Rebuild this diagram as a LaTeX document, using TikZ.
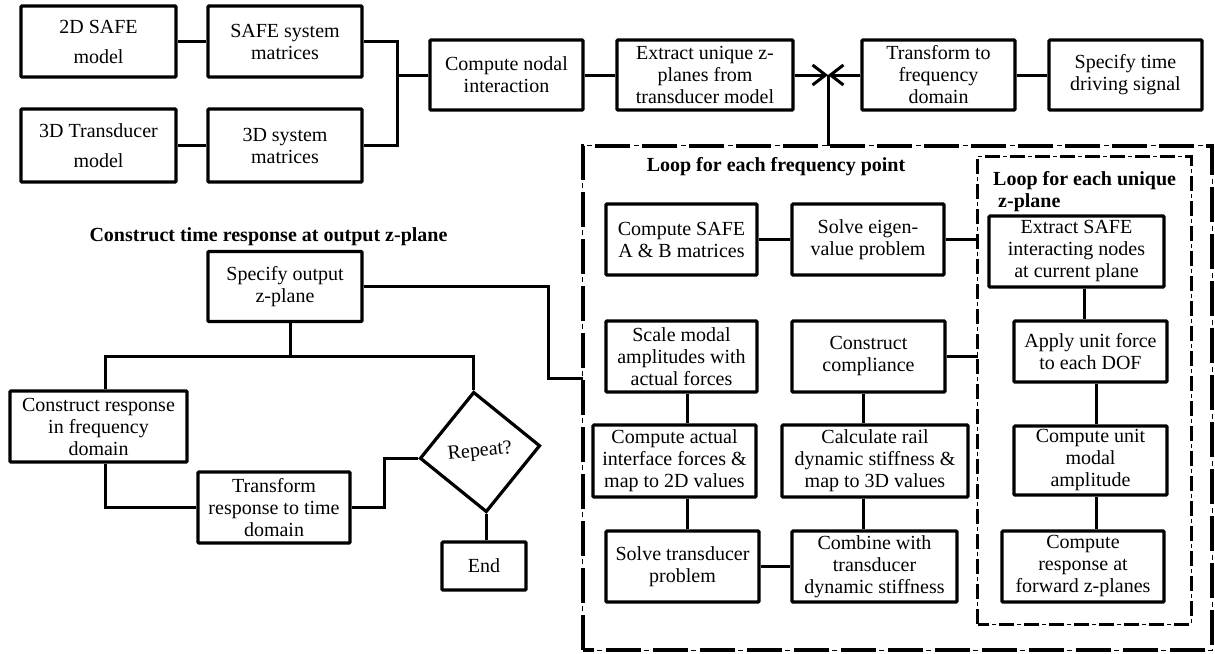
\documentclass[tikz,border=0pt]{standalone}
\usepackage{fontspec}
\setmainfont{Liberation Serif}
\usetikzlibrary{arrows.meta,shapes.geometric}
\begin{document}
\begin{tikzpicture}[x=1pt,y=-1pt,
  txt/.style={font=\fontsize{20}{22}\selectfont},
  box/.style={txt,draw,line width=3.2pt,align=center,inner sep=0pt,rounded corners=1pt},
  ttl/.style={font=\fontsize{20}{22}\selectfont\bfseries,inner sep=0pt,align=left},
  conn/.style={line width=3pt},
  arr/.style={conn,-{Straight Barb[length=13pt,width=20pt,line width=3pt]}},
  outerthick/.style={line width=3.6pt,dash pattern=on 35pt off 12pt},
  outerthin/.style={line width=1pt,dash pattern=on 5pt off 42pt,dash phase=8pt},
  innerthick/.style={line width=3pt,dash pattern=on 15pt off 10pt},
  innerthin/.style={line width=0.9pt,dash pattern=on 4pt off 21pt,dash phase=7pt},
  frame/.style={inner sep=0pt}]
\useasboundingbox (0,0) rectangle (1215,653);

% containers
\node[frame,minimum width=629pt,minimum height=504pt] (outer) at (897.5,398) {};
\node[frame,minimum width=213pt,minimum height=467pt] (inner) at (1084.5,390.5) {};
\draw[outerthick] (outer.south west) rectangle (outer.north east);
\draw[outerthin] (outer.south west) rectangle (outer.north east);
\draw[innerthick] (inner.south west) rectangle (inner.north east);
\draw[innerthin] (inner.south west) rectangle (inner.north east);

% titles
\node[ttl] (t1) at (268.5,237) {Construct time response at output z-plane};
\node[ttl] (t2) at (776,167) {Loop for each frequency point};
\node[ttl,anchor=north west] (t3) at (993,171) {Loop for each unique\\\hspace{5pt}z-plane};

% top row
\node[box,minimum width=155pt,minimum height=71pt] (safe2d) at (98.5,41.5) {2D SAFE\\[8pt]model};
\node[box,minimum width=154pt,minimum height=71pt] (safemat) at (285,41.5) {SAFE system\\matrices};
\node[box,minimum width=155pt,minimum height=73pt] (trans3d) at (98.5,145.5) {3D Transducer\\[8pt]model};
\node[box,minimum width=154pt,minimum height=73pt] (mat3d) at (285,145.5) {3D system\\matrices};
\node[box,minimum width=153pt,minimum height=70pt] (nodal) at (506.5,75) {Compute nodal\\interaction};
\node[box,minimum width=176pt,minimum height=70pt] (zplanes) at (705,75) {Extract unique z-\\planes from\\transducer model};
\node[box,minimum width=153pt,minimum height=70pt] (freq) at (938.5,75) {Transform to\\frequency\\domain};
\node[box,minimum width=153pt,minimum height=70pt] (drive) at (1125.5,75) {Specify time\\driving signal};

% loop boxes
\node[box,minimum width=151pt,minimum height=71pt] (safeab) at (681.5,239.5) {Compute SAFE\\A \& B matrices};
\node[box,minimum width=152pt,minimum height=71pt] (eigen) at (868,239.5) {Solve eigen-\\value problem};
\node[box,minimum width=151pt,minimum height=71pt] (scale) at (681.5,356.5) {Scale modal\\amplitudes with\\actual forces};
\node[box,minimum width=153pt,minimum height=71pt] (compl) at (868.5,356.5) {Construct\\compliance};
\node[box,minimum width=163pt,minimum height=72pt] (actual) at (674.5,461) {Compute actual\\interface forces \&\\map to 2D values};
\node[box,minimum width=186pt,minimum height=72pt] (rail) at (875,461) {Calculate rail\\dynamic stiffness \&\\map to 3D values};
\node[box,minimum width=153pt,minimum height=71pt] (tsolve) at (682.5,566.5) {Solve transducer\\problem};
\node[box,minimum width=165pt,minimum height=71pt] (combine) at (874.5,566.5) {Combine with\\transducer\\dynamic stiffness};

% inner loop boxes
\node[box,minimum width=175pt,minimum height=71pt] (exsafe) at (1076.5,251.5) {Extract SAFE\\interacting nodes\\at current plane};
\node[box,minimum width=153pt,minimum height=61pt] (unitf) at (1090.5,351.5) {Apply unit force\\to each DOF};
\node[box,minimum width=153pt,minimum height=69pt] (unitm) at (1090.5,460.5) {Compute unit\\modal\\amplitude};
\node[box,minimum width=162pt,minimum height=71pt] (resp) at (1083,566.5) {Compute\\response at\\forward z-planes};

% left section
\node[box,minimum width=154pt,minimum height=70pt] (spout) at (285,286.5) {Specify output\\z-plane};
\node[box,minimum width=177pt,minimum height=71pt] (cresp) at (98.5,426.5) {Construct response\\in frequency\\domain};
\node[box,minimum width=152pt,minimum height=71pt] (ttime) at (274,507.5) {Transform\\response to time\\domain};
\node[txt,draw,diamond,line width=3.2pt,minimum width=121pt,minimum height=121pt,inner sep=0pt,rotate=6] (dia) at (480,452) {Repeat?};
\node[box,minimum width=84pt,minimum height=48pt] (endb) at (484,566) {End};

% helper coordinates
\coordinate (j1) at (397,75);
\coordinate (m) at (828,75);
\coordinate (c1) at (687,0);
\coordinate (c2) at (863,0);
\coordinate (c3) at (1084,0);
\coordinate (c4) at (1096,0);
\coordinate (k1) at (548,378);
\coordinate (b1) at (290,356);
\coordinate (lb) at (105,356);
\coordinate (k2) at (384,0);

% top connectors
\draw[conn] (safe2d) -- (safemat);
\draw[conn] (trans3d) -- (mat3d);
\draw[conn] (safemat.east) -| (j1 |- mat3d.east) -- (mat3d.east);
\draw[conn] (j1) -- (nodal.west);
\draw[conn] (nodal) -- (zplanes);
\draw[conn] (freq) -- (drive);
\draw[arr] (zplanes.east) -- (m);
\draw[arr] (freq.west) -- (m);
\draw[conn] (m) -- (m |- outer.north);

% frequency loop connectors
\draw[conn] (safeab) -- (eigen);
\draw[conn] (eigen.east) -- (inner.west |- eigen.east);
\draw[conn] (compl.east) -- (inner.west |- compl.east);
\draw[conn] (scale.south -| c1) -- (actual.north -| c1);
\draw[conn] (actual.south -| c1) -- (tsolve.north -| c1);
\draw[conn] (compl.south -| c2) -- (rail.north -| c2);
\draw[conn] (rail.south -| c2) -- (combine.north -| c2);
\draw[conn] (tsolve) -- (combine);

% inner loop connectors
\draw[conn] (exsafe.south -| c3) -- (unitf.north -| c3);
\draw[conn] (unitf.south -| c4) -- (unitm.north -| c4);
\draw[conn] (unitm.south -| c4) -- (resp.north -| c4);

% left section connectors
\draw[conn] (spout.east) -| (k1) -- (k1 -| outer.west);
\draw[conn] (spout.south -| b1) -- (b1);
\draw[conn] (cresp.north -| lb) -- (lb) -- (lb -| dia.north) -- (dia.north);
\draw[conn] (cresp.south -| lb) |- (ttime.west);
\draw[conn] (ttime.east) -| (k2 |- dia.west) -- (dia.west);
\draw[conn] (dia.south) -- (dia.south |- endb.north);
\end{tikzpicture}
\end{document}
